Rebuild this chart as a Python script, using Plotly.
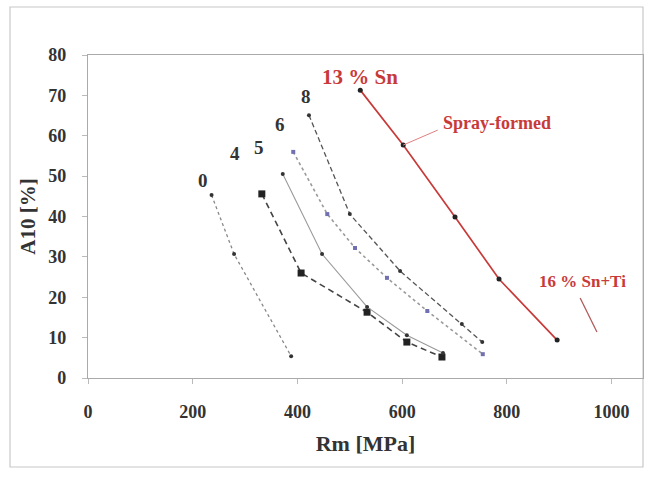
import plotly.graph_objects as go

# Rm [MPa] and A10 [%] values
rm_0 = [236, 279, 388]
a10_0 = [45.3, 30.7, 5.4]

rm_4 = [332, 407, 533, 609, 676]
a10_4 = [45.6, 26.0, 16.3, 8.9, 5.2]

rm_5 = [372, 447, 533, 609, 678]
a10_5 = [50.5, 30.7, 17.6, 10.6, 6.2]

rm_6 = [392, 457, 510, 571, 648, 754]
a10_6 = [56.0, 40.6, 32.2, 24.8, 16.6, 5.9]

rm_8 = [422, 500, 596, 714, 753]
a10_8 = [65.1, 40.6, 26.5, 13.4, 8.9]

rm_13sn = [520, 602, 701, 785, 896]
a10_13sn = [71.3, 57.7, 39.9, 24.5, 9.4]

rm_16snti = [940, 972]
a10_16snti = [19.8, 11.4]

x_ticks = [0, 200, 400, 600, 800, 1000]
y_ticks = [0, 10, 20, 30, 40, 50, 60, 70, 80]

FONT = "Liberation Serif"
RED = "#c83a3a"

fig = go.Figure()

fig.add_trace(go.Scatter(x=rm_0, y=a10_0, mode="lines+markers",
                         line=dict(color="#888", width=1.3, dash="dot"),
                         marker=dict(symbol="circle", size=4, color="#333")))
fig.add_trace(go.Scatter(x=rm_4, y=a10_4, mode="lines+markers",
                         line=dict(color="#444", width=1.6, dash="6px,4px"),
                         marker=dict(symbol="square", size=7, color="#222")))
fig.add_trace(go.Scatter(x=rm_5, y=a10_5, mode="lines+markers",
                         line=dict(color="#9a9a9a", width=1.1),
                         marker=dict(symbol="circle", size=4, color="#333")))
fig.add_trace(go.Scatter(x=rm_6, y=a10_6, mode="lines+markers",
                         line=dict(color="#9a9a9a", width=1.6, dash="dot"),
                         marker=dict(symbol="square", size=4, color="#7070b0")))
fig.add_trace(go.Scatter(x=rm_8, y=a10_8, mode="lines+markers",
                         line=dict(color="#555", width=1.3, dash="5px,3px"),
                         marker=dict(symbol="circle", size=4, color="#333")))
fig.add_trace(go.Scatter(x=rm_13sn, y=a10_13sn, mode="lines+markers",
                         line=dict(color=RED, width=1.7),
                         marker=dict(symbol="circle", size=5, color="#222")))
fig.add_trace(go.Scatter(x=rm_16snti, y=a10_16snti, mode="lines",
                         line=dict(color="#b05a5a", width=1.3)))

def label(x, y, text, color="#333", size=19):
    fig.add_annotation(x=x, y=y, xref="x", yref="y", text=text, showarrow=False,
                       font=dict(family=FONT, size=size, color=color))

label(220, 49.0, "<b>0</b>")
label(281, 55.7, "<b>4</b>")
label(327, 57.2, "<b>5</b>")
label(367, 62.7, "<b>6</b>")
label(416, 69.6, "<b>8</b>")
label(520, 74.6, "<b>13 % Sn</b>", color=RED, size=21)
label(781, 63.2, "<b>Spray-formed</b>", color=RED, size=18)
label(945, 23.8, "<b>16 % Sn+Ti</b>", color=RED, size=17)

# leader line for "Spray-formed"
fig.add_shape(type="line", xref="x", yref="y", x0=668, y0=61.4, x1=602, y1=57.7,
              line=dict(color="#e08080", width=1))

# outer border of the figure
fig.add_shape(type="rect", xref="paper", yref="paper", x0=-0.1405, x1=1.0,
              y0=-0.2755, y1=1.1486, line=dict(color="#c8c8c8", width=1.2),
              fillcolor="rgba(0,0,0,0)", layer="below")

fig.update_layout(
    width=654, height=478,
    margin=dict(l=88, r=11, t=55, b=100),
    paper_bgcolor="white", plot_bgcolor="white",
    showlegend=False,
    font=dict(family=FONT, color="#333"),
)
fig.update_xaxes(range=[0, 1060], tickvals=x_ticks,
                 ticktext=[f"<b>{v}</b>" for v in x_ticks],
                 tickfont=dict(family=FONT, size=18, color="#333"),
                 showgrid=False, zeroline=False, showline=True, linecolor="#aaa",
                 linewidth=1.2, mirror=True, ticks="outside", ticklen=5,
                 tickcolor="#bbb", ticklabelstandoff=12,
                 title=dict(text="<b>Rm [MPa]</b>", standoff=14,
                            font=dict(family=FONT, size=22, color="#333")))
fig.update_yaxes(range=[0, 80], tickvals=y_ticks,
                 ticktext=[f"<b>{v}</b>" for v in y_ticks],
                 tickfont=dict(family=FONT, size=18, color="#333"),
                 showgrid=False, zeroline=False, showline=True, linecolor="#aaa",
                 linewidth=1.2, mirror=True, ticks="outside", ticklen=5,
                 tickcolor="#bbb", ticklabelstandoff=12,
                 title=dict(text="<b>A10 [%]</b>", standoff=6,
                            font=dict(family=FONT, size=21, color="#333")))

fig.write_html("out.html")
